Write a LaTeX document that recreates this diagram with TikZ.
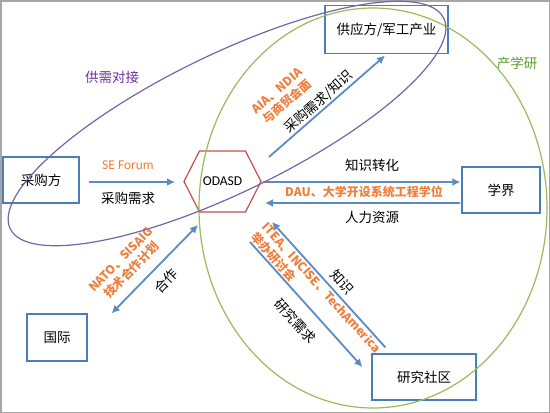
\documentclass[tikz,border=0pt]{standalone}
\usepackage{fontspec}
\setmainfont{Noto Sans CJK SC}
\newfontfamily\calfont{Carlito}
\usetikzlibrary{calc,arrows.meta}
\definecolor{boxc}{HTML}{4A7EBB}
\definecolor{arrc}{HTML}{5B8BC5}
\definecolor{hexc}{HTML}{C0504D}
\definecolor{grnc}{HTML}{9BBB59}
\definecolor{purc}{HTML}{7464A8}
\definecolor{purt}{HTML}{7030A0}
\definecolor{orgc}{HTML}{F07D3A}
\definecolor{grnt}{HTML}{5B9B2A}
\definecolor{framec}{HTML}{A6A6A6}
\begin{document}
\begin{tikzpicture}[x=1pt,y=-1pt,
  box/.style={draw=boxc,line width=1.2pt,inner sep=0pt,font=\fontsize{13.5}{16}\selectfont},
  lab/.style={inner sep=0pt,font=\fontsize{13.5}{16}\selectfont},
  olab/.style={inner sep=0pt,text=orgc,font=\bfseries\fontsize{12}{15}\selectfont},
  arr/.style={draw=arrc,line width=1.8pt,-{Latex[length=8pt,width=8pt]}},
  arrb/.style={draw=arrc,line width=1.8pt,{Latex[length=8pt,width=8pt]}-{Latex[length=8pt,width=8pt]}},
  hexline/.style={draw=hexc,line width=1.2pt},
  ell/.style={line width=1.2pt}]
\useasboundingbox (0,0) rectangle (550,413);
\draw[framec,line width=1.5pt] (0.75,0.75) rectangle (549.25,412.25);

% boxes
\node[box,minimum width=76pt,minimum height=46pt] (cgf) at (41,180) {采购方};
\node[box,minimum width=123pt,minimum height=48pt] (sup) at (386.5,29.5) {供应方/军工产业};
\node[box,minimum width=78pt,minimum height=46pt] (xue) at (501,190) {学界};
\node[box,minimum width=60pt,minimum height=47pt] (gj) at (57,337.5) {国际};
\node[box,minimum width=104pt,minimum height=46pt] (yj) at (424,377) {研究社区};
\node[inner sep=0pt,font=\calfont\fontsize{13.5}{16}\selectfont] (odasd) at (222.5,181.5) {ODASD};
\draw[hexline] ($(odasd)+(-38.5,0)$) -- ($(odasd)+(-23,-30.5)$) -- ($(odasd)+(23,-30.5)$)
  -- ($(odasd)+(38.5,0)$) -- ($(odasd)+(23,30.5)$) -- ($(odasd)+(-23,30.5)$) -- cycle;

% arrows
\draw[arr] ($(cgf.east)+(9,2)$) -- ($(odasd)+(-47.5,0.5)$);
\draw[arr] ($(odasd)+(46.5,-24.5)$) -- ($(sup.south)+(-1.5,1.5)$);
\draw[arr] ($(odasd)+(40.5,0.5)$) -- ($(xue.west)+(-1,-8)$);
\draw[arr] ($(xue.west)+(-1,13)$) -- ($(odasd)+(42.5,21.5)$);
\draw[arrb] ($(odasd)+(-24.5,43.5)$) -- ($(gj.north east)+(24,0)$);
\draw[arr] ($(yj.north west)+(14,-6)$) -- ($(odasd)+(49.5,40.5)$);
\draw[arr] ($(odasd)+(27.5,60.5)$) -- ($(yj.west)+(-9,-10)$);

% labels
\node[olab,font=\calfont\fontsize{13.5}{16}\selectfont] (l2) at (128,165) {SE Forum};
\node[lab] (l1) at (128,198) {采购需求};
\node[lab,rotate=41.3] (l3) at (318.5,102) {采购需求/知识};
\node[olab,rotate=41.3,align=center] (l4) at (282.5,96.5) {AIA、NDIA\\与商贸会面};
\node[lab] (l5) at (372,165) {知识转化};
\node[olab] (l6) at (364,192) {DAU、大学开设系统工程学位};
\node[lab] (l7) at (372,217) {人力资源};
\node[lab,rotate=45.6] (l8) at (166,281) {合作};
\node[olab,rotate=45.6,align=center] (l9) at (126.5,265) {NATO、SISAIG\\技术合作计划};
\node[lab,rotate=-47.9] (l10) at (342,282) {知识};
\node[olab,rotate=-47.9,align=left] (l11) at (316,293) {ITEA、INCISE、TechAmerica\\举办研讨会};
\node[lab,rotate=-47.9] (l12) at (295,321.5) {研究需求};
\node[lab,text=grnt] (l13) at (517,63) {产学研};
\node[lab,text=purt] (l14) at (112,77) {供需对接};

% ellipses
\draw[ell,grnc] (373,208) ellipse [x radius=174, y radius=200];
\draw[ell,purc,rotate around={25.9:(227,123.5)}] (227,123.5) ellipse [x radius=241, y radius=69];
\end{tikzpicture}
\end{document}
